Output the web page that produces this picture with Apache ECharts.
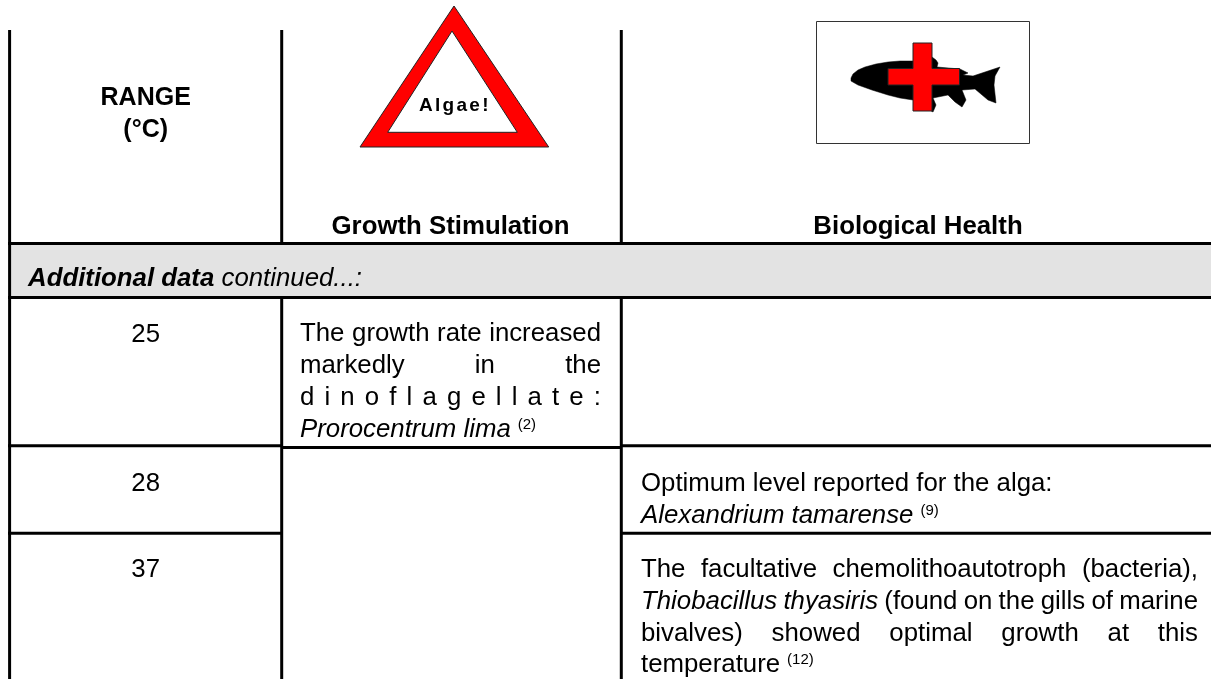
<!DOCTYPE html>
<html>
<head>
<meta charset="utf-8">
<title>Temperature range table</title>
<style>
html, body { margin: 0; padding: 0; background: #fff; }
#main { width: 1211px; height: 679px; }
</style>
<script src="https://cdn.jsdelivr.net/npm/echarts@6/dist/echarts.min.js"></script>
</head>
<body>
<div id="main"></div>
<script>
// table content
const rangeHead = ['RANGE', '(°C)'];
const columnHeads = ['Growth Stimulation', 'Biological Health'];
const warningWord = 'Algae!';
const sectionBold = 'Additional data';
const sectionItalic = ' continued...:';
const rangeValues = ['25', '28', '37'];
// n = normal, i = italic, s = superscript reference
const growth25 = [
	[['n', 'The growth rate increased']],
	[['n', 'markedly in the']],
	[['n', 'd i n o f l a g e l l a t e :']],
	[['i', 'Prorocentrum lima'], ['s', '(2)']]
];
const health28 = [
	[['n', 'Optimum level reported for the alga:']],
	[['i', 'Alexandrium tamarense'], ['s', '(9)']]
];
const health37 = [
	[['n', 'The facultative chemolithoautotroph (bacteria),']],
	[['i', 'Thiobacillus thyasiris'], ['n', '  (found on the gills of marine']],
	[['n', 'bivalves) showed optimal growth at this']],
	[['n', 'temperature'], ['s', '(12)']]
];

const FAMILY = '"Liberation Sans", Arial, sans-serif';
const SIZE = 25.8;
const fonts = {
	n: SIZE + 'px ' + FAMILY,
	i: 'italic ' + SIZE + 'px ' + FAMILY,
	b: 'bold ' + SIZE + 'px ' + FAMILY,
	bi: 'italic bold ' + SIZE + 'px ' + FAMILY,
	s: '15px ' + FAMILY
};
const ctx = document.createElement('canvas').getContext('2d');
function textW(text, font) {
	ctx.font = font;
	return ctx.measureText(text).width;
}

let els = [];
// y is the baseline, middle alignment sits about a third of the size above it
function addText(text, x, y, font, align) {
	let size = parseFloat(font.match(/([\d.]+)px/)[1]);
	els.push({
		type: 'text',
		z: 5,
		style: { text: text, x: x, y: y - size * 0.345, font: font, fill: '#000', align: align || 'left', verticalAlign: 'middle' }
	});
}
function addLine(x1, y1, x2, y2) {
	els.push({
		type: 'line',
		z: 3,
		shape: { x1: x1, y1: y1, x2: x2, y2: y2 },
		style: { stroke: '#000', lineWidth: 3 }
	});
}
function addPoly(points, fill, stroke, w, z) {
	els.push({
		type: 'polygon',
		z: z,
		shape: { points: points },
		style: { fill: fill, stroke: stroke, lineWidth: w }
	});
}

// one text line; when right is given the words are spread out to reach it
function drawLine(segs, x, y, right) {
	let cx = x;
	if (right) {
		let parts = [];
		let used = 0;
		segs.forEach(function (s) {
			s[1].trim().split(/ +/).forEach(function (w) {
				parts.push([s[0], w]);
				used += textW(w, fonts[s[0]]);
			});
		});
		let gap = (right - x - used) / (parts.length - 1);
		parts.forEach(function (p) {
			addText(p[1], cx, y, fonts[p[0]]);
			cx += textW(p[1], fonts[p[0]]) + gap;
		});
		return;
	}
	segs.forEach(function (s) {
		if (s[0] == 's') {
			cx += 7;
			addText(s[1], cx, y - 9, fonts.s);
			cx += textW(s[1], fonts.s);
		} else {
			addText(s[1], cx, y, fonts[s[0]]);
			cx += textW(s[1], fonts[s[0]]);
		}
	});
}

// gray band
els.push({
	type: 'rect',
	z: 1,
	shape: { x: 9, y: 245, width: 1202, height: 52 },
	style: { fill: '#e3e3e3' }
});

// rules
addLine(9.6, 30, 9.6, 679);
addLine(281.7, 30, 281.7, 243);
addLine(281.7, 297, 281.7, 679);
addLine(621.3, 30, 621.3, 243);
addLine(621.3, 297, 621.3, 679);
addLine(8, 243.4, 1211, 243.4);
addLine(8, 297.5, 1211, 297.5);
addLine(8, 445.8, 281, 445.8);
addLine(281, 447.6, 621, 447.6);
addLine(621, 445.8, 1211, 445.8);
addLine(8, 533.2, 281, 533.2);
addLine(621, 533.2, 1211, 533.2);

// warning triangle
addPoly([[454, 6], [548.7, 147], [360, 147]], '#f00', '#222', 1, 2);
addPoly([[452, 31], [517.3, 132.3], [387.7, 132.3]], '#fff', '#222', 1, 2);
let wx = 419;
const warnFont = 'bold 19px ' + FAMILY;
warningWord.split('').forEach(function (ch) {
	addText(ch, wx, 112, warnFont);
	wx += textW(ch, warnFont) + 2.3;
});

// fish box
els.push({
	type: 'rect',
	z: 1,
	shape: { x: 816.5, y: 21.5, width: 213, height: 122 },
	style: { fill: '#fff', stroke: '#333', lineWidth: 1 }
});
addPoly([[851, 78], [853, 74], [858, 70], [865, 67], [876, 64], [888, 62], [900, 61], [913, 61], [932, 57], [936, 60], [938, 63], [937, 67], [960, 69], [968, 73], [963, 75], [973, 76], [985, 72], [1000, 67], [995, 76], [994, 85], [996, 103], [988, 100], [975, 89], [962, 90], [966, 100], [962, 107], [955, 102], [948, 95], [933, 98], [936, 105], [933, 112], [913, 100], [900, 98], [888, 95], [872, 90], [858, 85], [851, 81]], '#000', '#000', 0.5, 2);
addPoly([[913, 43], [932, 43], [932, 68.5], [959.5, 68.5], [959.5, 85], [932, 85], [932, 111], [913, 111], [913, 85], [888, 85], [888, 68.5], [913, 68.5]], '#f00', '#222', 1, 3);

// headers
addText(rangeHead[0], 145.7, 107, 'bold 25px ' + FAMILY, 'center');
addText(rangeHead[1], 145.7, 139, 'bold 25px ' + FAMILY, 'center');
addText(columnHeads[0], 450.5, 236, fonts.b, 'center');
addText(columnHeads[1], 918, 236, fonts.b, 'center');

// section row
addText(sectionBold, 28, 288, fonts.bi);
addText(sectionItalic, 28 + textW(sectionBold, fonts.bi), 288, fonts.i);

// range column
addText(rangeValues[0], 145.7, 344, fonts.n, 'center');
addText(rangeValues[1], 145.7, 493, fonts.n, 'center');
addText(rangeValues[2], 145.7, 579, fonts.n, 'center');

// growth cell
growth25.forEach(function (segs, i) {
	drawLine(segs, 300, 343 + i * 32, i < 3 ? 601 : 0);
});
// health cells
health28.forEach(function (segs, i) {
	drawLine(segs, 641, 493 + i * 32, 0);
});
health37.forEach(function (segs, i) {
	drawLine(segs, 641, 579 + i * 31.7, i < 3 ? 1198 : 0);
});

let chart = echarts.init(document.getElementById('main'), null, { renderer: 'canvas' });
chart.setOption({
	backgroundColor: '#fff',
	animation: false,
	graphic: { elements: els }
});
</script>
</body>
</html>
